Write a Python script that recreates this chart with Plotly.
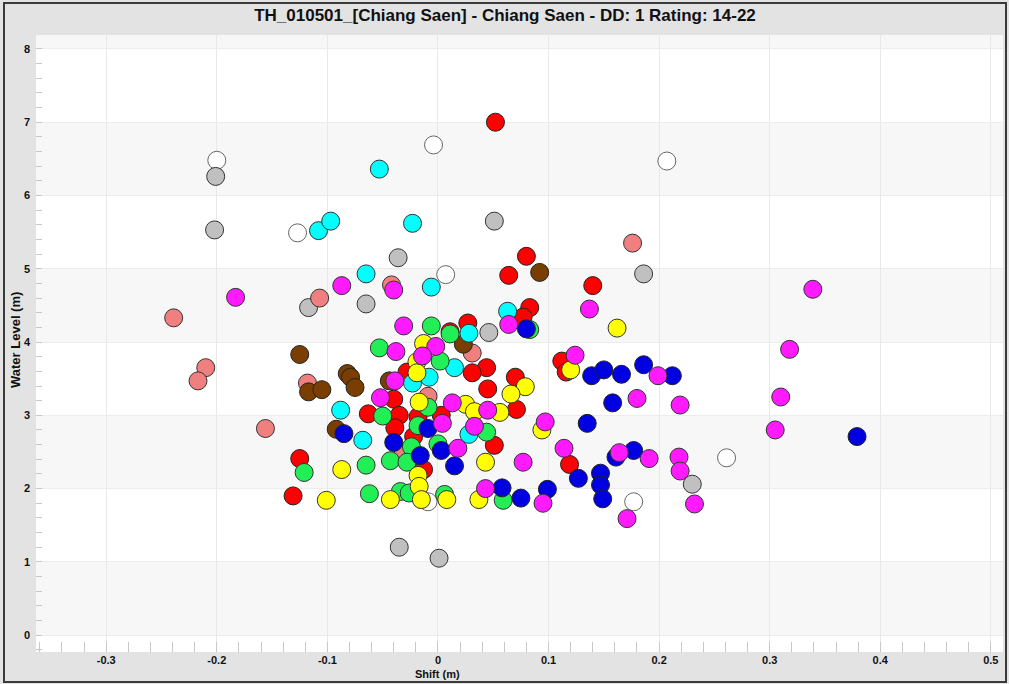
import plotly.graph_objects as go

TITLE = "TH_010501_[Chiang Saen] - Chiang Saen - DD: 1 Rating: 14-22"
X_LABEL = "Shift (m)"
Y_LABEL = "Water Level (m)"
X_TICKS = [-0.3, -0.2, -0.1, 0, 0.1, 0.2, 0.3, 0.4, 0.5]
X_TICK_TEXT = ["-0.3", "-0.2", "-0.1", "0", "0.1", "0.2", "0.3", "0.4", "0.5"]
Y_TICKS = [0, 1, 2, 3, 4, 5, 6, 7, 8]

white_shift = [-0.004, -0.200, 0.207, -0.127, 0.007, 0.261, 0.177, -0.009]
white_level = [6.69, 6.48, 6.47, 5.49, 4.92, 2.42, 1.82, 1.82]

gray_shift = [-0.201, -0.202, 0.051, -0.036, 0.186, -0.065, -0.117, 0.046, 0.230, -0.035, 0.001]
gray_level = [6.26, 5.53, 5.65, 5.15, 4.93, 4.52, 4.47, 4.13, 2.06, 1.20, 1.05]

salmon_shift = [0.176, -0.107, -0.042, -0.239, -0.210, -0.217, -0.118, -0.156, 0.031, -0.009, -0.032]
salmon_level = [5.35, 4.60, 4.78, 4.33, 3.65, 3.47, 3.44, 2.82, 3.85, 3.26, 2.46]

brown_shift = [0.092, 0.023, -0.125, -0.082, -0.079, -0.075, -0.117, -0.105, -0.044, -0.092]
brown_level = [4.95, 3.97, 3.83, 3.57, 3.52, 3.38, 3.32, 3.35, 3.47, 2.81]

red_shift = [0.052, 0.080, 0.064, 0.140, 0.083, 0.027, 0.077, 0.011, 0.044, 0.031,
             0.045, 0.070, 0.071, 0.051, 0.112, 0.116, 0.119, -0.125, -0.131, -0.028,
             -0.040, -0.063, -0.035, -0.018, 0.003, -0.039, -0.022, -0.013]
red_level = [7.00, 5.17, 4.91, 4.77, 4.47, 4.26, 4.34, 4.14, 3.65, 3.58,
             3.36, 3.52, 3.08, 2.59, 3.74, 3.59, 2.33, 2.41, 1.90, 3.59,
             3.22, 3.02, 3.00, 2.98, 3.00, 2.83, 2.71, 2.26]

cyan_shift = [-0.053, -0.108, -0.097, -0.023, -0.065, -0.006, 0.063, 0.028, 0.015, -0.008,
              -0.023, -0.088, -0.068, 0.028]
cyan_level = [6.36, 5.52, 5.65, 5.62, 4.93, 4.75, 4.42, 4.12, 3.65, 3.52,
              3.44, 3.07, 2.66, 2.74]

green_shift = [-0.006, 0.011, -0.053, 0.002, -0.009, -0.050, -0.018, 0.044, -0.024, 0.000,
               -0.121, -0.065, -0.043, -0.028, -0.062, -0.034, -0.026, 0.006, 0.059, 0.083]
green_level = [4.22, 4.11, 3.92, 3.74, 3.11, 2.99, 2.86, 2.77, 2.57, 2.61,
               2.22, 2.32, 2.38, 2.36, 1.93, 1.96, 1.94, 1.92, 1.84, 4.17]

yellow_shift = [0.162, -0.013, -0.019, -0.019, 0.079, 0.066, 0.120, -0.017, 0.025, 0.033,
                0.056, 0.094, 0.043, -0.087, -0.018, -0.017, -0.015, -0.043, 0.008, 0.037, -0.101]
yellow_level = [4.19, 3.98, 3.73, 3.58, 3.39, 3.29, 3.62, 3.18, 3.15, 3.05,
                3.04, 2.80, 2.36, 2.26, 2.18, 2.03, 1.85, 1.85, 1.85, 1.85, 1.84]

blue_shift = [0.080, 0.139, 0.150, 0.166, 0.186, 0.212, 0.158, 0.135, 0.127, 0.147,
              0.147, 0.149, 0.161, 0.177, 0.379, 0.058, 0.075, 0.099, -0.085, -0.040,
              -0.009, 0.003, -0.016, 0.015]
blue_level = [4.18, 3.54, 3.62, 3.56, 3.69, 3.54, 3.17, 2.89, 2.14, 2.21,
              2.05, 1.86, 2.43, 2.52, 2.71, 2.01, 1.87, 1.99, 2.75, 2.63,
              2.82, 2.52, 2.45, 2.31]

magenta_shift = [-0.183, -0.087, -0.040, -0.031, 0.064, 0.137, 0.339, -0.038, -0.002, -0.014,
                 -0.039, -0.052, 0.013, 0.045, 0.033, 0.004, 0.018, 0.097, 0.077, 0.043,
                 0.095, 0.124, 0.180, 0.199, 0.219, 0.114, 0.164, 0.191, 0.218, 0.219,
                 0.232, 0.171, 0.318, 0.310, 0.305]
magenta_level = [4.61, 4.77, 4.71, 4.22, 4.24, 4.45, 4.72, 3.87, 3.94, 3.81,
                 3.47, 3.24, 3.17, 3.07, 2.85, 2.89, 2.55, 2.91, 2.36, 2.00,
                 1.80, 3.82, 3.23, 3.54, 3.14, 2.55, 2.49, 2.41, 2.43, 2.24,
                 1.79, 1.59, 3.90, 3.25, 2.80]

series = [
    ("white", white_shift, white_level, "#ffffff", "#666666"),
    ("gray", gray_shift, gray_level, "#c0c0c0", "#333333"),
    ("salmon", salmon_shift, salmon_level, "#f08080", "#333333"),
    ("brown", brown_shift, brown_level, "#7a3f00", "#222222"),
    ("red", red_shift, red_level, "#ff0000", "#222222"),
    ("cyan", cyan_shift, cyan_level, "#00ffff", "#333333"),
    ("green", green_shift, green_level, "#22ee55", "#333333"),
    ("yellow", yellow_shift, yellow_level, "#ffff00", "#333333"),
    ("blue", blue_shift, blue_level, "#0000e0", "#222222"),
    ("magenta", magenta_shift, magenta_level, "#ff1aff", "#333333"),
]

fig = go.Figure()
for name, xs, ys, fill, edge in series:
    fig.add_trace(go.Scatter(
        x=xs, y=ys, mode="markers", name=name,
        marker=dict(size=18, color=fill, opacity=1, line=dict(color=edge, width=1)),
        showlegend=False, hoverinfo="skip",
    ))

# alternating horizontal bands
shapes = []
for lo in [0, 2, 4, 6, 8]:
    shapes.append(dict(type="rect", xref="x domain", yref="y", x0=0, x1=1, y0=lo, y1=lo + 1,
                       fillcolor="#f7f7f7", line=dict(width=0), layer="below"))
# outer frame
W, H = 1009, 684
L, R, T, B = 36, 6, 35, 32
pw, ph = W - L - R, H - T - B
def px_x(p):
    return (p - L) / pw
def px_y(p):
    return (H - B - p) / ph
shapes.append(dict(type="rect", xref="paper", yref="paper",
                   x0=px_x(4), x1=px_x(1006), y0=px_y(682), y1=px_y(3),
                   line=dict(color="#3a3a3a", width=2), fillcolor="rgba(0,0,0,0)", layer="above"))

font_family = "Liberation Sans, Arial, sans-serif"

fig.update_layout(
    width=W, height=H,
    margin=dict(l=L, r=R, t=T, b=B),
    paper_bgcolor="#e3e3e3",
    plot_bgcolor="#ffffff",
    shapes=shapes,
    font=dict(family=font_family, color="#111111"),
    title=dict(text=TITLE, x=505 / W, xref="container", xanchor="center", y=1 - 15 / H, yref="container",
               yanchor="middle",
               font=dict(size=17, family=font_family, color="#111111", weight="bold")),
    annotations=[
        dict(text=X_LABEL, xref="paper", yref="paper", x=px_x(437), y=px_y(674),
             showarrow=False, xanchor="center", yanchor="middle",
             font=dict(size=11, weight="bold", color="#111111")),
        dict(text=Y_LABEL, xref="paper", yref="paper", x=px_x(15), y=px_y(340),
             showarrow=False, xanchor="center", yanchor="middle", textangle=-90,
             font=dict(size=13, weight="bold", color="#111111")),
    ],
)

fig.update_xaxes(
    range=[-0.3635, 0.511],
    tickvals=X_TICKS, ticktext=X_TICK_TEXT,
    showgrid=True, gridcolor="#e8e8e8", gridwidth=1,
    zeroline=False, showline=False,
    ticks="inside", ticklen=10, tickcolor="#c8c8c8",
    minor=dict(ticks="inside", dtick=0.02, tick0=0, ticklen=10, tickcolor="#c8c8c8", showgrid=False),
    tickfont=dict(size=11, weight="bold", color="#111111"),
)
fig.update_yaxes(
    range=[-0.23, 8.19],
    tickvals=Y_TICKS,
    showgrid=True, gridcolor="#ececec", gridwidth=1,
    zeroline=False, showline=False,
    ticks="inside", ticklen=6, tickcolor="#c8c8c8",
    minor=dict(ticks="inside", dtick=0.2, tick0=0, ticklen=6, tickcolor="#c8c8c8", showgrid=False),
    tickfont=dict(size=11, weight="bold", color="#111111"),
    ticklabelstandoff=5,
)

fig.write_html("out.html", config={"displayModeBar": False},
               post_script="document.body.style.margin='0px';document.body.style.padding='0px';")
